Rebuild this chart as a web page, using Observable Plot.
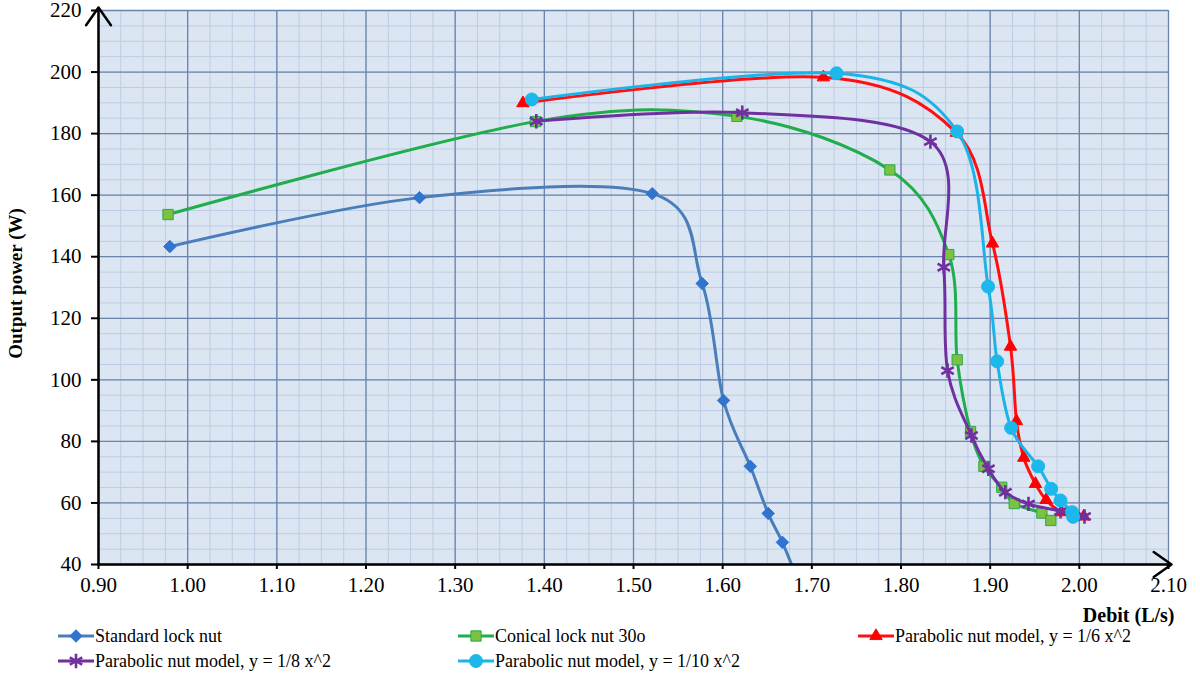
<!DOCTYPE html>
<html>
<head>
<meta charset="utf-8">
<script src="https://cdn.jsdelivr.net/npm/d3@7"></script>
<script src="https://cdn.jsdelivr.net/npm/@observablehq/plot@0.6"></script>
<style>
  body { margin: 0; background: #ffffff; font-family: "Liberation Serif", "Times New Roman", serif; }
  #chart svg { display: block; overflow: visible; }
  #legend { position: relative; width: 1200px; height: 48px; font-size: 18px; color: #000; font-family: "Liberation Serif", "Times New Roman", serif; }
  .item { position: absolute; display: flex; align-items: center; height: 22px; white-space: nowrap; }
  .item svg { display: block; margin-right: 1px; }
</style>
</head>
<body>
<div id="chart"></div>
<div id="legend"></div>
<script>
// ---- axes / ticks ----
const xDomain = [0.9, 2.1];
const yDomain = [40, 220];
const xTicks = d3.range(9, 22).map(d => d / 10);        // 0.90 ... 2.10
const xMinor = d3.range(36, 85).map(d => d / 40);       // every 0.025
const yTicks = d3.range(40, 221, 20);                   // 40 ... 220
const yMinor = d3.range(40, 221, 5);                    // every 5
const xTitle = "Debit (L/s)";
const yTitle = "Output power (W)";

// ---- series ----
const seriesNames = [
  "Standard lock nut",
  "Conical lock nut 30o",
  "Parabolic nut model, y = 1/6 x^2",
  "Parabolic nut model, y = 1/8 x^2",
  "Parabolic nut model, y = 1/10 x^2"
];

const standardX = [0.98, 1.26, 1.521, 1.577, 1.601, 1.631, 1.651, 1.667, 1.684];
const standardY = [143.3, 159.2, 160.5, 131.3, 93.3, 71.9, 56.6, 47.2, 35];

const conicalX = [0.978, 1.390, 1.616, 1.7875, 1.8536, 1.863, 1.878, 1.893, 1.913, 1.927, 1.958, 1.968];
const conicalY = [153.7, 183.9, 185.6, 168.2, 140.7, 106.5, 83.2, 71.9, 65.1, 59.8, 56.7, 54.3];

const para6X = [1.376, 1.713, 1.862, 1.9026, 1.9228, 1.9295, 1.9377, 1.9508, 1.9628, 1.980, 2.005];
const para6Y = [189.9, 198.3, 180.3, 144.3, 110.8, 86.6, 74.7, 66.2, 61.0, 57.0, 55.6];

const para8X = [1.391, 1.622, 1.833, 1.848, 1.8522, 1.879, 1.898, 1.917, 1.943, 1.979, 2.0058];
const para8Y = [184.0, 186.8, 177.4, 136.6, 103.0, 81.9, 71.1, 63.5, 59.7, 57.3, 55.6];

const para10X = [1.386, 1.7277, 1.863, 1.8977, 1.9078, 1.9235, 1.9538, 1.9684, 1.9789, 1.992, 1.993];
const para10Y = [191.1, 199.6, 180.7, 130.3, 106.0, 84.4, 71.9, 64.6, 60.8, 57.0, 55.5];

const lineColors   = ["#4a7ebb", "#1fae4b", "#ff1010", "#7030a0", "#1cb3e8"];
const markerFills  = ["#2f74cf", "#7cc242", "#ff0000", "none", "#1cb8ec"];
const markerStroke = ["#2f74cf", "#2aa84c", "#ff0000", "#7030a0", "#1cb8ec"];
const markerSymbols = ["diamond2", "square", "triangle", "asterisk", "circle"];
const markerR = [5.6, 5.8, 4.6, 6.8, 6.5];

const xs = [standardX, conicalX, para6X, para8X, para10X];
const ys = [standardY, conicalY, para6Y, para8Y, para10Y];

const series = seriesNames.map((name, i) => ({
  name,
  data: xs[i].map((x, j) => ({x, y: ys[i][j]})),
  line: lineColors[i], fill: markerFills[i], stroke: markerStroke[i],
  symbol: markerSymbols[i], r: markerR[i]
}));

const bg = "#dce6f2";
const minorColor = "#bccde5";
const majorColor = "#6a84ac";

const marks = [
  Plot.frame({fill: bg, stroke: "none"}),
  Plot.ruleX(xMinor, {stroke: minorColor, strokeWidth: 1}),
  Plot.ruleY(yMinor, {stroke: minorColor, strokeWidth: 1}),
  Plot.ruleX(xTicks, {stroke: majorColor, strokeWidth: 1.3}),
  Plot.ruleY(yTicks, {stroke: majorColor, strokeWidth: 1.3})
];

for (const s of series) {
  marks.push(Plot.line(s.data, {x: "x", y: "y", stroke: s.line, strokeWidth: 3, curve: "cardinal", clip: true}));
  marks.push(Plot.dot(s.data, {
    x: "x", y: "y", symbol: () => s.symbol, r: s.r,
    fill: s.fill, stroke: s.stroke, strokeWidth: s.symbol === "asterisk" ? 2.6 : 1, clip: true
  }));
}

marks.push(
  Plot.axisX({ticks: xTicks, tickFormat: d3.format(".2f"), tickSize: 5, tickPadding: 8, fontSize: 21, label: null, stroke: "black", strokeWidth: 2}),
  Plot.axisY({ticks: yTicks, tickSize: 7, tickPadding: 10, fontSize: 21, label: null, stroke: "black", strokeWidth: 2}),
  Plot.arrow([0], {x1: () => xDomain[0], y1: () => yDomain[0], x2: () => xDomain[0], y2: () => yDomain[1],
    stroke: "black", strokeWidth: 2.5, headLength: 13, headAngle: 70, insetEnd: -3}),
  Plot.arrow([0], {x1: () => xDomain[0], y1: () => yDomain[0], x2: () => xDomain[1], y2: () => yDomain[0],
    stroke: "black", strokeWidth: 2.5, headLength: 13, headAngle: 70, insetEnd: -3}),
  Plot.text([yTitle], {frameAnchor: "left", dx: -83, dy: -4, rotate: -90, text: d => d,
    fontSize: 19, fontWeight: "bold", fill: "black", textAnchor: "middle"}),
  Plot.text([xTitle], {frameAnchor: "bottom-right", dx: 6, dy: 51, text: d => d,
    fontSize: 20, fontWeight: "bold", fill: "black", textAnchor: "end", lineAnchor: "middle"})
);

const chart = Plot.plot({
  width: 1200,
  height: 625,
  marginLeft: 98,
  marginRight: 32,
  marginTop: 10,
  marginBottom: 61,
  x: {domain: xDomain, type: "linear"},
  y: {domain: yDomain, type: "linear"},
  style: {fontFamily: "'Liberation Serif', 'Times New Roman', serif", fontSize: "20px", color: "black", background: "white", overflow: "visible"},
  marks
});
document.getElementById("chart").appendChild(chart);

// ---- legend ----
const legendPos = [[58, 0], [458, 0], [858, 0], [58, 25], [458, 25]];
const legendOrder = [0, 1, 2, 3, 4];
const symbolMap = {
  diamond2: d3.symbolDiamond2, square: d3.symbolSquare, triangle: d3.symbolTriangle,
  asterisk: d3.symbolAsterisk, circle: d3.symbolCircle
};
const legend = d3.select("#legend");
legendOrder.forEach((si, k) => {
  const s = series[si];
  const item = legend.append("div").attr("class", "item")
    .style("left", legendPos[k][0] + "px").style("top", legendPos[k][1] + "px");
  const svg = item.append("svg").attr("width", 36).attr("height", 20);
  svg.append("line").attr("x1", 0).attr("x2", 36).attr("y1", 10).attr("y2", 10)
    .attr("stroke", s.line).attr("stroke-width", 3);
  svg.append("path")
    .attr("d", d3.symbol(symbolMap[s.symbol], Math.PI * s.r * s.r)())
    .attr("transform", "translate(18,10)")
    .attr("fill", s.fill).attr("stroke", s.stroke)
    .attr("stroke-width", s.symbol === "asterisk" ? 2.6 : 1);
  item.append("span").text(s.name);
});
</script>
</body>
</html>
